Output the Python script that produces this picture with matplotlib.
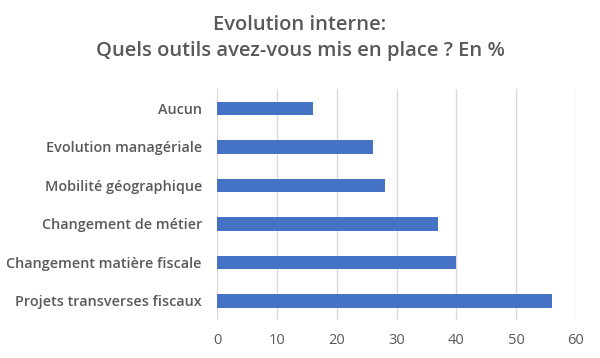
import matplotlib
matplotlib.use("Agg")
import matplotlib.pyplot as plt

categories = [
    "Projets transverses fiscaux",
    "Changement matière fiscale",
    "Changement de métier",
    "Mobilité géographique",
    "Evolution managériale",
    "Aucun",
]
values = [56, 40, 37, 28, 26, 16]
xticks = [0, 10, 20, 30, 40, 50, 60]

TEXT = "#595959"
BAR = "#4472C4"
GRID = "#D9D9D9"

plt.rcParams["font.family"] = ["Open Sans", "DejaVu Sans"]

fig = plt.figure(figsize=(6.0, 3.58), dpi=100)
ax = fig.add_axes([0.362, 0.106, 0.598, 0.645])

ax.barh(categories, values, height=0.35, color=BAR, zorder=3)

ax.set_xlim(0, 60)
ax.set_ylim(-0.5, len(categories) - 0.5)
ax.set_xticks(xticks)
ax.grid(axis="x", color=GRID, linewidth=1, zorder=0)
for s in ax.spines.values():
    s.set_visible(False)
ax.tick_params(axis="both", length=0, colors=TEXT)
ax.tick_params(axis="y", labelsize=10.4, pad=11)
ax.tick_params(axis="x", labelsize=10.5, pad=9)
for lbl in ax.get_yticklabels():
    lbl.set_fontweight("semibold")

fig.text(0.5, 0.893, "Evolution interne:\nQuels outils avez-vous mis en place ? En %",
         ha="center", va="center", fontsize=14.5, fontweight="semibold",
         color=TEXT, linespacing=1.4)

fig.savefig("out.png", dpi=100, facecolor="white")
